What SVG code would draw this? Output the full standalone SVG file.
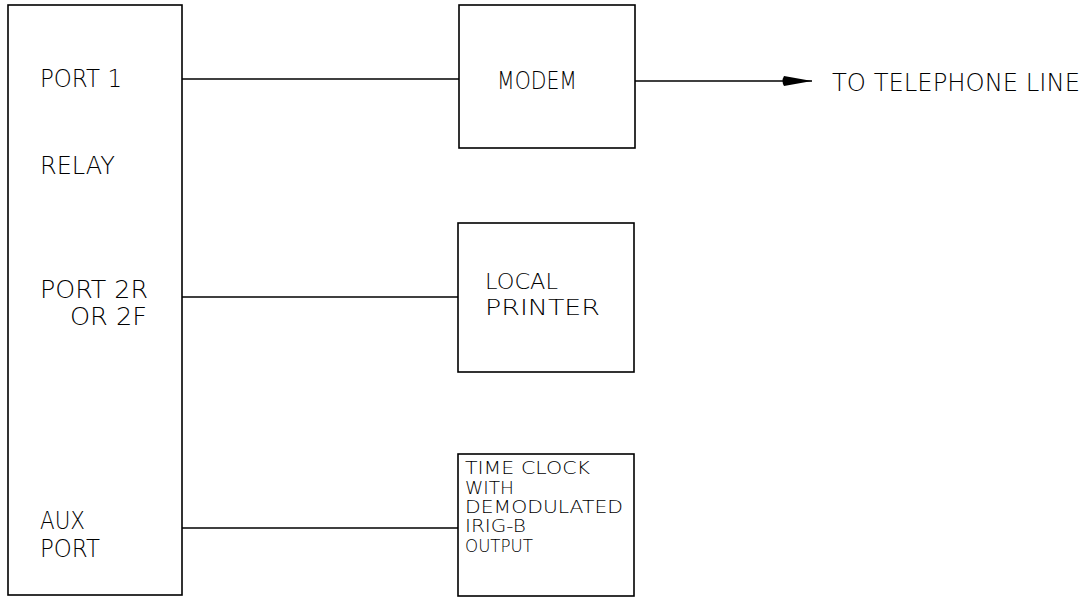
<svg xmlns="http://www.w3.org/2000/svg" width="1091" height="604" viewBox="0 0 1091 604">
<defs>
<style>
.box{fill:#fff;stroke:#000;stroke-width:1.6}
.ln{stroke:#000;stroke-width:1.3;fill:none}
.t{font-family:"DejaVu Sans","Liberation Sans",sans-serif;font-size:24px;font-weight:200;fill:#000}
.m{font-family:"DejaVu Sans","Liberation Sans",sans-serif;font-size:22px;font-weight:200;fill:#000}
.s{font-family:"DejaVu Sans","Liberation Sans",sans-serif;font-size:17px;font-weight:200;fill:#000}
</style>
<marker id="ah" markerWidth="32" markerHeight="12" refX="30" refY="6" orient="auto" markerUnits="userSpaceOnUse">
<path d="M2,1 L30,6 L2,11 Q-1,6 2,1 Z" fill="#000"/>
</marker>
</defs>
<rect width="1091" height="604" fill="#fff"/>
<g id="connectors">
<line class="ln" x1="182" y1="79" x2="459" y2="79"/>
<line class="ln" x1="182" y1="297" x2="458" y2="297"/>
<line class="ln" x1="182" y1="528" x2="458" y2="528"/>
<line class="ln" x1="635" y1="81" x2="812" y2="81" marker-end="url(#ah)"/>
</g>
<g id="controller">
<rect class="box" x="8" y="5" width="174" height="590"/>
<text class="t" x="40" y="87" textLength="82" lengthAdjust="spacingAndGlyphs">PORT 1</text>
<text class="t" x="40" y="174" textLength="75" lengthAdjust="spacingAndGlyphs">RELAY</text>
<text class="t" x="40" y="298" textLength="108" lengthAdjust="spacingAndGlyphs">PORT 2R</text>
<text class="t" x="70" y="325" textLength="77" lengthAdjust="spacingAndGlyphs">OR 2F</text>
<text class="t" x="40" y="529" textLength="45" lengthAdjust="spacingAndGlyphs">AUX</text>
<text class="t" x="40" y="557" textLength="60" lengthAdjust="spacingAndGlyphs">PORT</text>
</g>
<g id="modem">
<rect class="box" x="459" y="5" width="176" height="143"/>
<text class="t" x="497" y="89" textLength="80" lengthAdjust="spacingAndGlyphs">MODEM</text>
</g>
<g id="telephone">
<text class="t" x="832" y="91" textLength="248" lengthAdjust="spacingAndGlyphs">TO TELEPHONE LINE</text>
</g>
<g id="printer">
<rect class="box" x="458" y="223" width="176" height="149"/>
<text class="m" x="485" y="289" textLength="73" lengthAdjust="spacingAndGlyphs">LOCAL</text>
<text class="m" x="485" y="315" textLength="115" lengthAdjust="spacingAndGlyphs">PRINTER</text>
</g>
<g id="timeclock">
<rect class="box" x="458" y="454" width="176" height="142"/>
<text class="s" x="465" y="474" textLength="125" lengthAdjust="spacingAndGlyphs">TIME CLOCK</text>
<text class="s" x="465" y="494" textLength="49" lengthAdjust="spacingAndGlyphs">WITH</text>
<text class="s" x="465" y="513" textLength="158" lengthAdjust="spacingAndGlyphs">DEMODULATED</text>
<text class="s" x="465" y="532" textLength="61" lengthAdjust="spacingAndGlyphs">IRIG-B</text>
<text class="s" x="465" y="552" textLength="68" lengthAdjust="spacingAndGlyphs">OUTPUT</text>
</g>
</svg>
